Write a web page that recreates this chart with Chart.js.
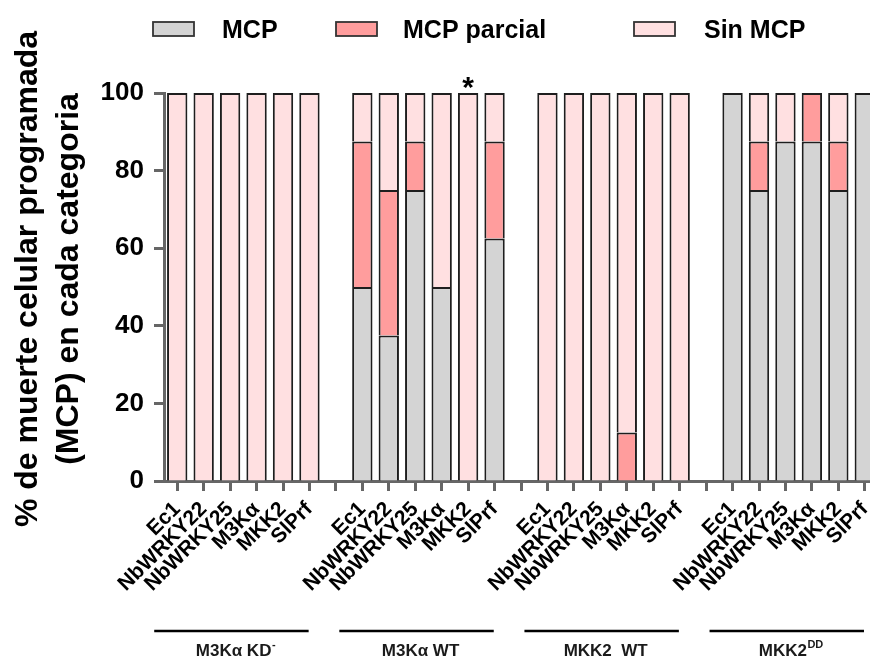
<!DOCTYPE html>
<html><head><meta charset="utf-8">
<script src="https://cdn.jsdelivr.net/npm/chart.js@4"></script>
<style>
html,body{margin:0;padding:0;overflow:hidden;background:#fff}
#wrap{width:870px;height:657px;overflow:hidden;position:relative}
canvas{display:block}
</style>
</head><body>
<div id="wrap"><canvas id="c" width="890" height="657"></canvas></div>
<script>
// ---- data ----
const genes = ["Ec1", "NbWRKY22", "NbWRKY25", "M3Kα", "MKK2", "SlPrf"];
const groupNames = ["M3Kα KD", "M3Kα WT", "MKK2  WT", "MKK2"];
const groupSup = ["-", "", "", "DD"];
const seriesNames = ["MCP", "MCP parcial", "Sin MCP"];
const yTitle = ["% de muerte celular programada", "(MCP) en cada categoria"];
const yTickValues = [0, 20, 40, 60, 80, 100];

// M3Kα KD-
const mcpKD      = [0, 0, 0, 0, 0, 0];
const parcialKD  = [0, 0, 0, 0, 0, 0];
const sinKD      = [100, 100, 100, 100, 100, 100];
// M3Kα WT
const mcpM3K     = [50, 37.5, 75, 50, 0, 62.5];
const parcialM3K = [37.5, 37.5, 12.5, 0, 0, 25];
const sinM3K     = [12.5, 25, 12.5, 50, 100, 12.5];
// MKK2 WT
const mcpMKK2     = [0, 0, 0, 0, 0, 0];
const parcialMKK2 = [0, 0, 0, 12.5, 0, 0];
const sinMKK2     = [100, 100, 100, 87.5, 100, 100];
// MKK2 DD
const mcpDD      = [100, 75, 87.5, 87.5, 75, 100];
const parcialDD  = [0, 12.5, 0, 12.5, 12.5, 0];
const sinDD      = [0, 12.5, 12.5, 0, 12.5, 0];

const significance = { group: 1, gene: 4, mark: "*" };

// ---- build category table (one empty slot between groups) ----
function flatten(parts) {
  const out = [];
  parts.forEach((p, gi) => { out.push(...p); if (gi < parts.length - 1) out.push(null); });
  return out;
}
const labels = flatten(groupNames.map(() => genes.slice())).map(v => v === null ? "" : v);
const mcpAll = flatten([mcpKD, mcpM3K, mcpMKK2, mcpDD]);
const parcialAll = flatten([parcialKD, parcialM3K, parcialMKK2, parcialDD]);
const sinAll = flatten([sinKD, sinM3K, sinMKK2, sinDD]);
const slotsPerGroup = genes.length + 1;

const FONT = '"Liberation Sans", Arial, Helvetica, sans-serif';

const extras = {
  id: 'extras',
  afterDraw(chart) {
    const ctx = chart.ctx, xs = chart.scales.x, ys = chart.scales.y;
    ctx.save();
    // legend
    const boxX = [153, 336, 634], textX = [222, 403, 704];
    chart.data.datasets.forEach((ds, i) => {
      ctx.fillStyle = ds.backgroundColor;
      ctx.fillRect(boxX[i], 22, 41, 14);
      ctx.strokeStyle = '#333'; ctx.lineWidth = 1.8;
      ctx.strokeRect(boxX[i], 22, 41, 14);
      ctx.fillStyle = '#000';
      ctx.font = 'bold 25px ' + FONT;
      ctx.textAlign = 'left'; ctx.textBaseline = 'alphabetic';
      ctx.fillText(ds.label, textX[i], 38);
    });
    // y-axis title
    ctx.font = 'bold 32px ' + FONT;
    ctx.textAlign = 'center'; ctx.textBaseline = 'alphabetic'; ctx.fillStyle = '#000';
    [[yTitle[0], 37], [yTitle[1], 78]].forEach(([t, x]) => {
      ctx.save(); ctx.translate(x, 279); ctx.rotate(-Math.PI / 2); ctx.fillText(t, 0, 0); ctx.restore();
    });
    // group brackets and labels
    const slot = xs.getPixelForValue(1) - xs.getPixelForValue(0);
    groupNames.forEach((g, gi) => {
      const i0 = gi * slotsPerGroup, i1 = i0 + genes.length - 1;
      const c = (xs.getPixelForValue(i0) + xs.getPixelForValue(i1)) / 2 - 0.45 * slot;
      const hw = 2.92 * slot;
      ctx.strokeStyle = '#000'; ctx.lineWidth = 2.5;
      ctx.beginPath(); ctx.moveTo(c - hw, 631); ctx.lineTo(c + hw, 631); ctx.stroke();
      ctx.font = 'bold 17px ' + FONT;
      const w1 = ctx.measureText(g).width;
      ctx.font = 'bold 11px ' + FONT;
      const w2 = groupSup[gi] ? ctx.measureText(groupSup[gi]).width : 0;
      const start = c + 4 - (w1 + w2) / 2;
      ctx.fillStyle = '#1a1a1a'; ctx.textAlign = 'left';
      ctx.font = 'bold 17px ' + FONT;
      ctx.fillText(g, start, 656);
      if (groupSup[gi]) {
        ctx.font = 'bold 11px ' + FONT;
        ctx.fillText(groupSup[gi], start + w1 + 0.5, 648);
      }
    });
    // significance mark
    const idx = significance.group * slotsPerGroup + significance.gene;
    ctx.font = 'bold 30px ' + FONT; ctx.textAlign = 'center'; ctx.fillStyle = '#000';
    ctx.fillText(significance.mark, xs.getPixelForValue(idx), ys.getPixelForValue(100) + 4);
    ctx.restore();
  }
};

const common = { borderColor: '#1e1e1e', borderWidth: 2, barPercentage: 0.77, categoryPercentage: 1 };

new Chart(document.getElementById('c'), {
  type: 'bar',
  data: {
    labels: labels,
    datasets: [
      Object.assign({ label: seriesNames[0], data: mcpAll, backgroundColor: '#d4d4d4' }, common),
      Object.assign({ label: seriesNames[1], data: parcialAll, backgroundColor: '#ff9d9d' }, common),
      Object.assign({ label: seriesNames[2], data: sinAll, backgroundColor: '#ffe0e1' }, common)
    ]
  },
  options: {
    responsive: false,
    animation: false,
    devicePixelRatio: 1,
    layout: { padding: { top: 93, right: 12, left: 0, bottom: 0 } },
    plugins: { legend: { display: false }, tooltip: { enabled: false } },
    scales: {
      x: {
        stacked: true,
        offset: true,
        grid: { display: true, offset: false, drawOnChartArea: false, drawTicks: true, tickLength: 10, tickWidth: 3, tickColor: '#666' },
        border: { display: true, color: '#666', width: 3 },
        ticks: { autoSkip: false, maxRotation: 45, minRotation: 45, padding: 6, color: '#000',
                 font: { family: FONT, size: 21, weight: 'bold' } },
        afterFit: s => { s.height = 176; }
      },
      y: {
        stacked: true,
        min: 0, max: 100,
        grid: { drawOnChartArea: false, drawTicks: true, tickLength: 10, tickWidth: 3, tickColor: '#666' },
        border: { display: true, color: '#666', width: 3 },
        ticks: { padding: 10, color: '#000', font: { family: FONT, size: 26, weight: 'bold' } },
        afterBuildTicks: s => { s.ticks = yTickValues.map(v => ({ value: v })); },
        afterFit: s => { s.width = 164; }
      }
    }
  },
  plugins: [extras]
});
</script>
</body></html>
